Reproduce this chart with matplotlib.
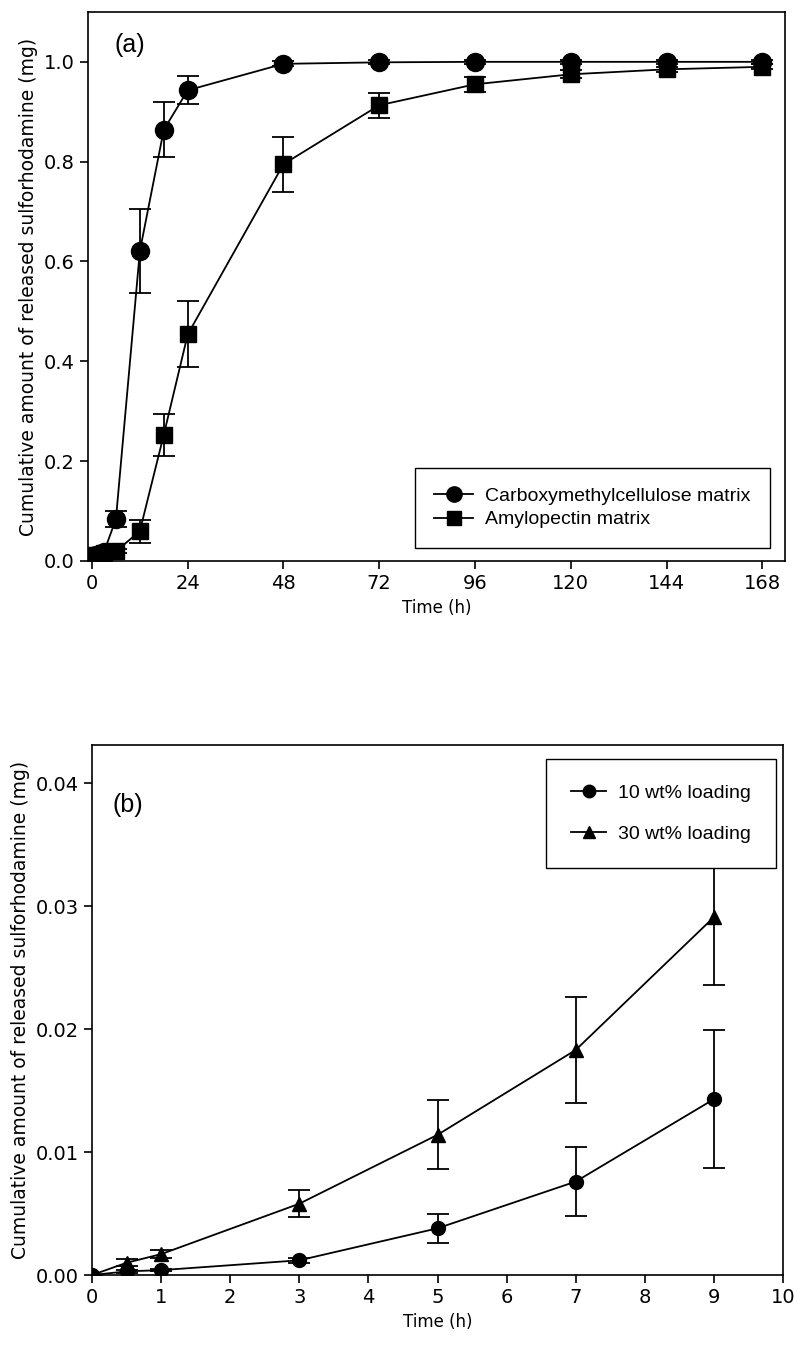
import matplotlib
matplotlib.use("Agg")
import matplotlib.pyplot as plt
from matplotlib.lines import Line2D

# panel (a)
t_a = [0, 1, 3, 6, 12, 18, 24, 48, 72, 96, 120, 144, 168]
cmc = [0.010, 0.012, 0.018, 0.084, 0.621, 0.864, 0.943, 0.996, 0.999, 1.0, 1.0, 1.0, 1.0]
cmc_err = [0.0, 0.003, 0.004, 0.016, 0.085, 0.055, 0.028, 0.005, 0.004, 0.004, 0.004, 0.004, 0.004]
amy = [0.010, 0.012, 0.015, 0.019, 0.060, 0.253, 0.454, 0.795, 0.913, 0.955, 0.975, 0.985, 0.990]
amy_err = [0.0, 0.002, 0.003, 0.004, 0.023, 0.042, 0.066, 0.055, 0.025, 0.015, 0.008, 0.005, 0.005]
xticks_a = [0, 24, 48, 72, 96, 120, 144, 168]
yticks_a = [0.0, 0.2, 0.4, 0.6, 0.8, 1.0]

# panel (b)
t_b = [0, 0.5, 1, 3, 5, 7, 9]
load10 = [0.0, 0.0003, 0.0004, 0.0012, 0.0038, 0.0076, 0.0143]
load10_err = [0.0, 0.0001, 0.0001, 0.0002, 0.0012, 0.0028, 0.0056]
load30 = [0.0, 0.0010, 0.0017, 0.0058, 0.0114, 0.0183, 0.0291]
load30_err = [0.0, 0.0003, 0.0003, 0.0011, 0.0028, 0.0043, 0.0055]
xticks_b = list(range(0, 11))
yticks_b = [0.0, 0.01, 0.02, 0.03, 0.04]

plt.rcParams['font.family'] = ['DejaVu Sans']
ylab = 'Cumulative amount of released sulforhodamine (mg)'

fig = plt.figure(figsize=(8, 13.55), dpi=100)
ax1 = fig.add_axes([0.11, 0.586, 0.87125, 0.4052])
ax2 = fig.add_axes([0.115, 0.059, 0.86375, 0.3912])

kw = dict(color='black', lw=1.3, elinewidth=1.3, capsize=8, capthick=1.3)
ax1.errorbar(t_a, cmc, yerr=cmc_err, marker='o', ms=13, **kw)
ax1.errorbar(t_a, amy, yerr=amy_err, marker='s', ms=11, **kw)
ax1.set_xlim(-1, 173.7)
ax1.set_ylim(0, 1.1)
ax1.set_xticks(xticks_a)
ax1.set_yticks(yticks_a)
ax1.set_yticklabels(['%.1f' % v for v in yticks_a])
ax1.set_xlabel('Time (h)', fontsize=12)
ax1.set_ylabel(ylab, fontsize=13.5)
ax1.text(0.038, 0.94, '(a)', transform=ax1.transAxes, fontsize=18,
         family='Liberation Sans', va='center')
h1 = [Line2D([], [], color='black', lw=1.3, marker='o', ms=11),
      Line2D([], [], color='black', lw=1.3, marker='s', ms=10)]
leg1 = ax1.legend(h1, ['Carboxymethylcellulose matrix', 'Amylopectin matrix'],
                  loc='lower right', bbox_to_anchor=(0.978, 0.024),
                  prop={'family': 'Liberation Sans', 'size': 14},
                  fancybox=False, edgecolor='black', framealpha=1,
                  handlelength=2.0, handletextpad=0.6, borderpad=1.0,
                  labelspacing=0.3, borderaxespad=0)
leg1.get_frame().set_linewidth(1.0)

ax2.errorbar(t_b, load10, yerr=load10_err, marker='o', ms=10, **kw)
ax2.errorbar(t_b, load30, yerr=load30_err, marker='^', ms=10, **kw)
ax2.set_xlim(0, 10)
ax2.set_ylim(0, 0.0431)
ax2.set_xticks(xticks_b)
ax2.set_yticks(yticks_b)
ax2.set_yticklabels(['%.2f' % v for v in yticks_b])
ax2.set_xlabel('Time (h)', fontsize=12)
ax2.set_ylabel(ylab, fontsize=13.5)
ax2.text(0.03, 0.887, '(b)', transform=ax2.transAxes, fontsize=18,
         family='Liberation Sans', va='center')
h2 = [Line2D([], [], color='black', lw=1.3, marker='o', ms=9),
      Line2D([], [], color='black', lw=1.3, marker='^', ms=9)]
leg2 = ax2.legend(h2, ['10 wt% loading', '30 wt% loading'],
                  loc='upper right', bbox_to_anchor=(0.99, 0.974),
                  prop={'family': 'Liberation Sans', 'size': 14},
                  fancybox=False, edgecolor='black', framealpha=1,
                  handlelength=1.8, handletextpad=0.6, borderpad=1.3,
                  labelspacing=1.2, borderaxespad=0)
leg2.get_frame().set_linewidth(1.0)

for ax in (ax1, ax2):
    ax.tick_params(direction='out', length=6, width=1.2, labelsize=14)
    for s in ax.spines.values():
        s.set_linewidth(1.2)

fig.savefig('out.png', dpi=100)
